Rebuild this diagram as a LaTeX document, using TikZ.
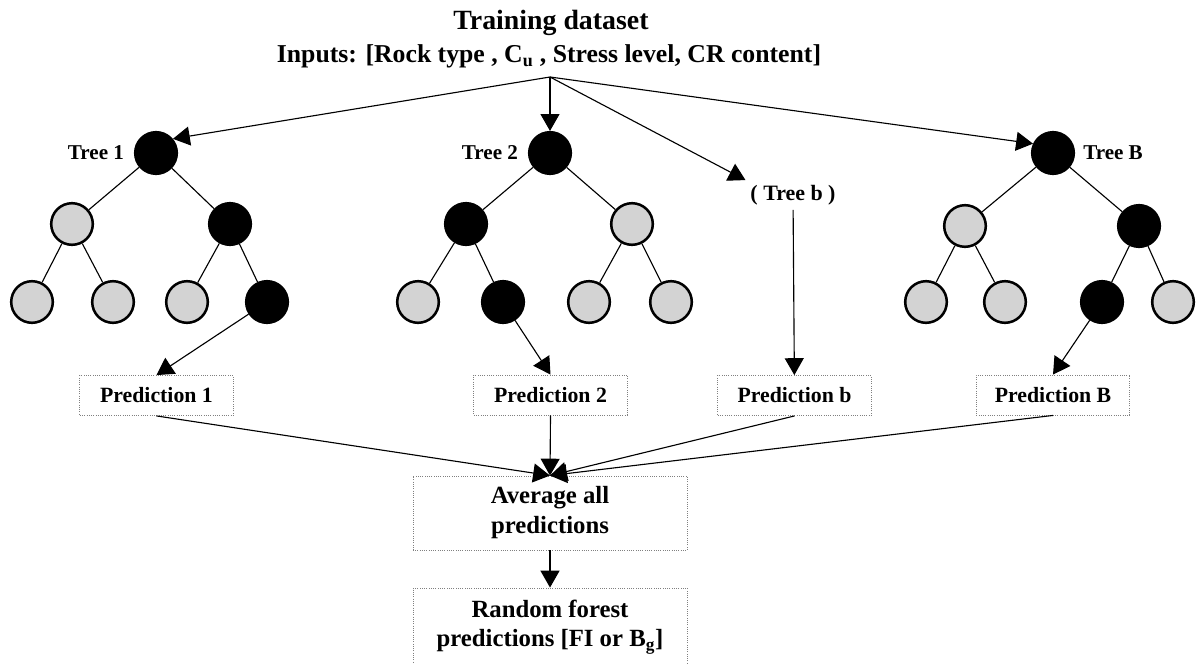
\documentclass[tikz,border=0pt]{standalone}
\usepackage{fontspec}
\setmainfont{Liberation Serif}
\usetikzlibrary{arrows.meta,positioning}
\definecolor{nodegray}{HTML}{D3D3D3}
\begin{document}
\begin{tikzpicture}[x=0.025cm,y=-0.025cm,node distance=1.5cm,
    dark/.style={circle,draw=black,fill=black,line width=1.8pt,minimum size=1.04cm,inner sep=0pt},
    light/.style={circle,draw=black,fill=nodegray,line width=1.8pt,minimum size=1.04cm,inner sep=0pt},
    treelabel/.style={font=\fontsize{15}{18}\selectfont\bfseries},
    predbox/.style={draw=gray,densely dotted,line width=0.6pt,minimum width=3.83cm,minimum height=1cm,
      font=\fontsize{15.5}{18}\selectfont\bfseries},
    bigbox/.style={draw=gray,densely dotted,line width=0.6pt,minimum width=6.85cm,align=center,
      font=\fontsize{17.6}{21.3}\selectfont\bfseries},
    arr/.style={-{Triangle[length=12pt,width=13.5pt]},line width=0.8pt}]
                \useasboundingbox (0,0) rectangle (1200,663);

                % dataset
                \path (551,30) node[anchor=base,font=\fontsize{19.8}{24}\selectfont\bfseries] (title) {Training dataset};
                \path (549,63) node[anchor=base,font=\fontsize{18.3}{22}\selectfont\bfseries] (inputs)
                  {Inputs: [Rock type , C\textsubscript{u} , Stress level, CR content]};
                \coordinate (fan) at (550,77);

                % tree 1
                \path (156,153) node[dark] (t1) {};
                \path node[treelabel,left of=t1] (t1lab) {Tree 1};
                \path (72,224) node[light] (t1-a) {};
                \path (230,224) node[dark] (t1-b) {};
                \path (32,302) node[light] (t1-aa) {};
                \path (113,302) node[light] (t1-ab) {};
                \path (187,302) node[light] (t1-ba) {};
                \path (267,302) node[dark] (t1-bb) {};

                % tree 2
                \path (550,153) node[dark] (t2) {};
                \path node[treelabel,left of=t2] (t2lab) {Tree 2};
                \path (466,224) node[dark] (t2-a) {};
                \path (632,224) node[light] (t2-b) {};
                \path (418,302) node[light] (t2-aa) {};
                \path (503,302) node[dark] (t2-ab) {};
                \path (589,302) node[light] (t2-ba) {};
                \path (671,302) node[light] (t2-bb) {};

                % tree b
                \path (793,195) node[font=\fontsize{15.6}{18}\selectfont\bfseries] (treeb) {( Tree b )};

                % tree B
                \path (1053,153) node[dark] (tB) {};
                \path node[treelabel,right of=tB] (tBlab) {Tree B};
                \path (965,226) node[light] (tB-a) {};
                \path (1139,226) node[dark] (tB-b) {};
                \path (926,302) node[light] (tB-aa) {};
                \path (1005,302) node[light] (tB-ab) {};
                \path (1102,302) node[dark] (tB-ba) {};
                \path (1173,302) node[light] (tB-bb) {};

                \foreach \tr in {t1,t2,tB}
                  \draw[line width=0.8pt] (\tr) -- (\tr-a) (\tr) -- (\tr-b)
                    (\tr-a) -- (\tr-aa) (\tr-a) -- (\tr-ab) (\tr-b) -- (\tr-ba) (\tr-b) -- (\tr-bb);

                % predictions
                \path (156.5,395.5) node[predbox] (p1) {Prediction 1};
                \path (550.5,395) node[predbox] (p2) {Prediction 2};
                \path (794.5,395.5) node[predbox] (pb) {Prediction b};
                \path (1053,395) node[predbox] (pB) {Prediction B};
                \path (550,513) node[bigbox,minimum height=1.85cm] (avg) {Average all\\predictions};
                \path (550,627) node[bigbox,minimum height=1.95cm] (rf) {Random forest\\predictions [FI or B\textsubscript{g}]};

                \draw[arr] (fan) -- (t1.40);
                \draw[arr] (fan) -- (t2);
                \draw[arr] (fan) -- (treeb.north west);
                \draw[arr] (fan) -- (tB.155);
                \draw[arr] (t1-bb) -- (p1.north);
                \draw[arr] (t2-ab) -- (p2.north);
                \draw[arr] (treeb) -- (pb);
                \draw[arr] (tB-ba) -- (pB.north);
                \foreach \p in {p1,p2,pb,pB}
                  \draw[arr] (\p.south) -- (avg.north);
                \draw[arr] (avg) -- (rf);
              \end{tikzpicture}
\end{document}
